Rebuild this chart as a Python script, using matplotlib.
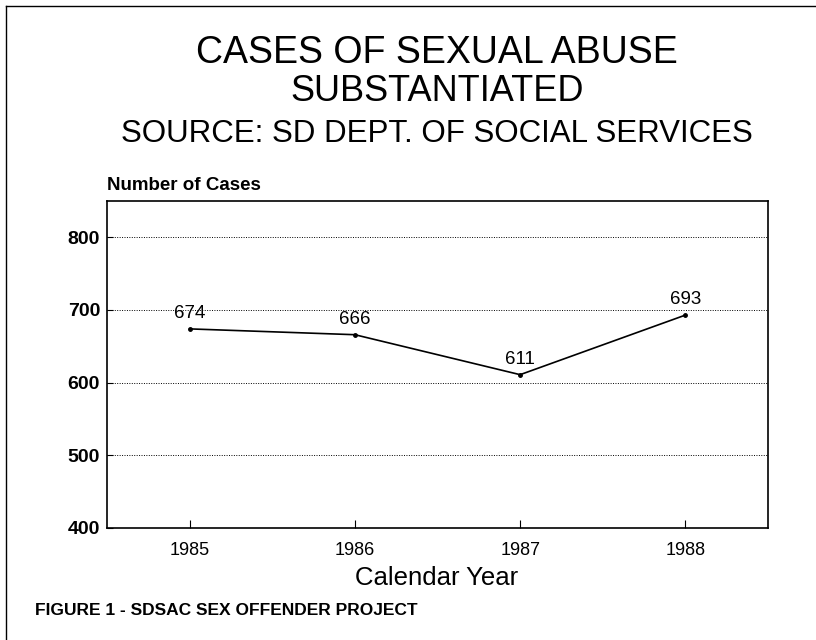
import matplotlib
matplotlib.use("Agg")
import matplotlib.pyplot as plt
from matplotlib.lines import Line2D

years = [1985, 1986, 1987, 1988]
cases = [674, 666, 611, 693]
y_ticks = [400, 500, 600, 700, 800]

plt.rcParams['font.family'] = ['Liberation Sans', 'DejaVu Sans']

W, H = 816, 640
fig = plt.figure(figsize=(8.16, 6.4), dpi=100)
ax = fig.add_axes([107/W, 1 - 528/H, (768-107)/W, (528-201)/H])

ax.plot(years, cases, color='black', lw=1.2, marker='o', ms=2.5)
for x, y in zip(years, cases):
    ax.annotate(str(y), (x, y), xytext=(0, 5), textcoords='offset points',
                ha='center', va='bottom', fontsize=13.5)

ax.set_xlim(1984.5, 1988.5)
ax.set_ylim(400, 850)
ax.set_xticks(years)
ax.set_yticks(y_ticks)
ax.set_yticklabels([str(v) for v in y_ticks], fontsize=14, fontweight='bold')
ax.set_xticklabels([str(v) for v in years], fontsize=13)
ax.tick_params(axis='x', direction='in', length=6, pad=10)
ax.tick_params(axis='y', direction='in', length=4, pad=5)
for v in y_ticks[1:]:
    ax.axhline(v, color='black', lw=0.7, ls=(0, (1, 1.5)), zorder=0)
for s in ax.spines.values():
    s.set_linewidth(1.2)

# titles (positions in pixels from top)
fig.text(437/W, 1 - 63/H, 'CASES OF SEXUAL ABUSE', ha='center', va='baseline', fontsize=27)
fig.text(437/W, 1 - 101/H, 'SUBSTANTIATED', ha='center', va='baseline', fontsize=26)
fig.text(437/W, 1 - 142/H, 'SOURCE: SD DEPT. OF SOCIAL SERVICES', ha='center', va='baseline', fontsize=22.5)
fig.text(107/W, 1 - 190/H, 'Number of Cases', ha='left', va='baseline', fontsize=13.5, fontweight='bold')
fig.text(437/W, 1 - 585/H, 'Calendar Year', ha='center', va='baseline', fontsize=18.5)
fig.text(35/W, 1 - 615/H, 'FIGURE 1 - SDSAC SEX OFFENDER PROJECT', ha='left', va='baseline', fontsize=12.5, fontweight='bold')

# page border (left and top)
fig.add_artist(Line2D([6/W, 6/W], [0, 1 - 6/H], color='black', lw=1))
fig.add_artist(Line2D([6/W, 1], [1 - 6/H, 1 - 6/H], color='black', lw=1))

fig.savefig('out.png', dpi=100)
